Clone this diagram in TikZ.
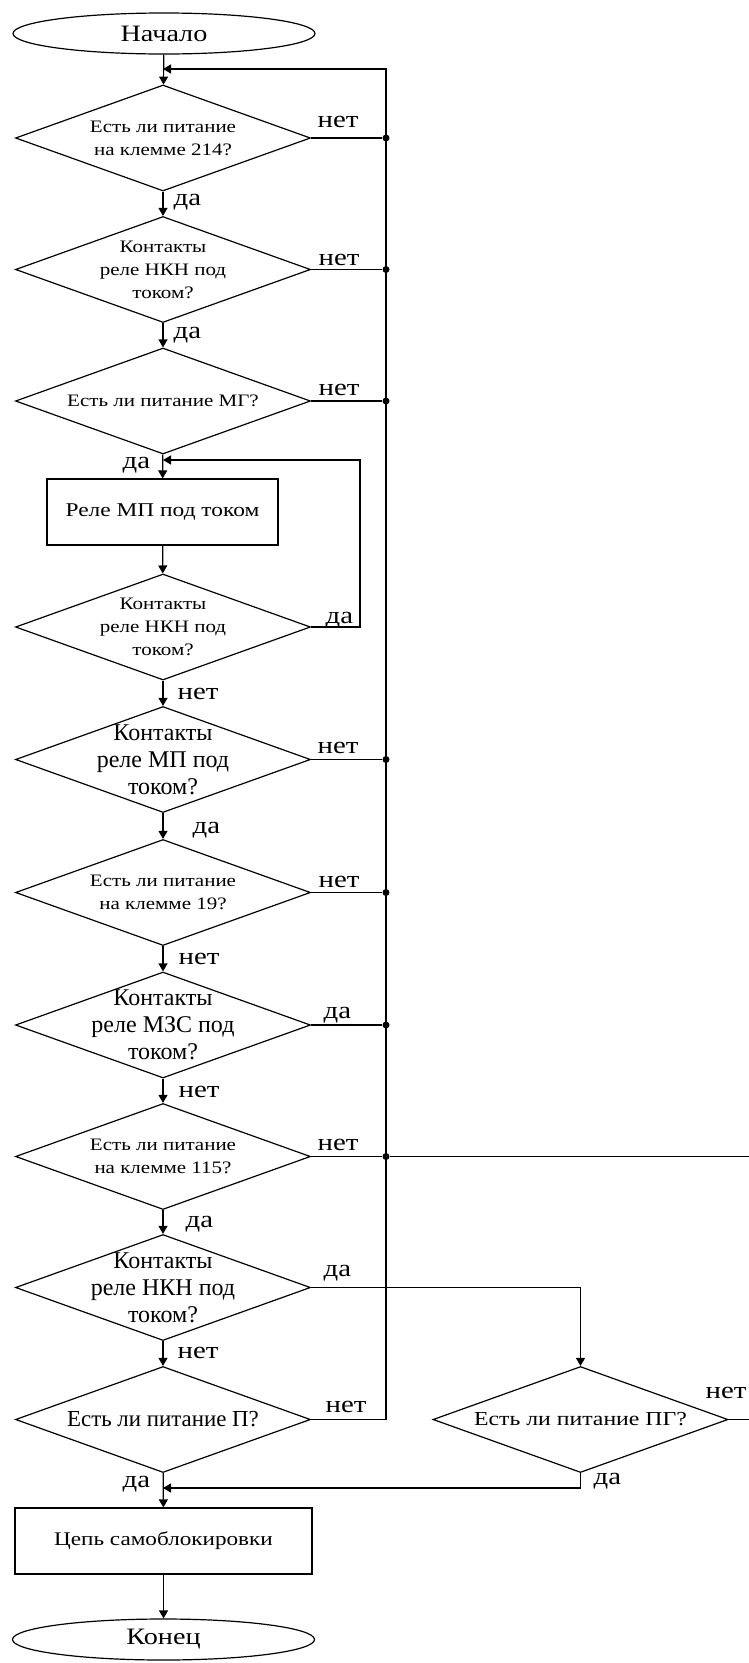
\documentclass[tikz,border=0pt]{standalone}
\usepackage{fontspec}
\setmainfont{Liberation Serif}[FakeStretch=1.2]
\newfontfamily\plainserif{Liberation Serif}
\usetikzlibrary{arrows.meta,positioning,shapes.geometric}

\begin{document}
\begin{tikzpicture}[
    x=1pt, y=-1pt,
    decision/.style={draw, diamond, minimum width=295pt, minimum height=106pt, inner sep=0pt},
    dtext/.style={align=center, inner sep=0pt, font=\fontsize{17.5}{23}\selectfont},
    dbig/.style={align=center, inner sep=0pt, font=\plainserif\fontsize{24}{27}\selectfont},
    process/.style={draw, rectangle, inner sep=0pt},
    terminal/.style={draw, ellipse, minimum width=302pt, minimum height=41pt, inner sep=0pt, font=\fontsize{23.5}{27}\selectfont},
    lbl/.style={anchor=base west, inner sep=0pt, font=\fontsize{24}{28}\selectfont},
    junction/.style={circle, fill, inner sep=0pt, minimum size=7pt},
    line width=1.2pt,
    >={Triangle[length=8pt,width=9pt]}
  ]
  \useasboundingbox (0,0) rectangle (749,1663);

  % Main column
  \node[terminal] (start) at (164,33.5) {Начало};
  \node[decision] (d1) at (163,138) {};
  \node[dtext] (d1t) at (d1) {Есть ли питание\\на клемме 214?};
  \node[decision] (d2) at (163,269.5) {};
  \node[dtext] (d2t) at (d2) {Контакты\\реле НКН под\\током?};
  \node[decision] (d3) at (163,401) {};
  \node[dtext] (d3t) at (d3) {Есть ли питание МГ?};
  \node[process, minimum width=231pt, minimum height=66pt, font=\fontsize{19.5}{24}\selectfont] (r1) at (162.5,512) {Реле МП под током};
  \node[decision] (d4) at (163,627) {};
  \node[dtext] (d4t) at (d4) {Контакты\\реле НКН под\\током?};
  \node[decision] (d5) at (163,759.5) {};
  \node[dbig] (d5t) at (d5) {Контакты\\реле МП под\\током?};
  \node[decision] (d6) at (163,892.5) {};
  \node[dtext] (d6t) at (d6) {Есть ли питание\\на клемме 19?};
  \node[decision] (d7) at (163,1025) {};
  \node[dbig] (d7t) at (d7) {Контакты\\реле МЗС под\\током?};
  \node[decision] (d8) at (163,1156.5) {};
  \node[dtext] (d8t) at (d8) {Есть ли питание\\на клемме 115?};
  \node[decision] (d9) at (163,1287.5) {};
  \node[dbig] (d9t) at (d9) {Контакты\\реле НКН под\\током?};
  \node[decision] (d10) at (163,1419.5) {};
  \node[dbig, font=\plainserif\fontsize{22.9}{26}\selectfont] (d10t) at (d10) {Есть ли питание П?};
  \node[process, minimum width=297pt, minimum height=66pt, font=\fontsize{19.3}{24}\selectfont] (r2) at (163.5,1541) {Цепь самоблокировки};
  \node[terminal] (stop) at (163.5,1639.5) {Конец};

  % Side branch
  \node[decision] (d11) at (580.5,1419.5) {};
  \node[align=center, inner sep=0pt, font=\fontsize{19.8}{24}\selectfont] (d11t) at (d11) {Есть ли питание ПГ?};

  % Rails
  \coordinate (rail) at (386,69);
  \coordinate (ret) at (163,69);
  \coordinate (loopr) at (360,460);
  \coordinate (loopin) at (163,460);
  \coordinate (mrg) at (163,1488);
  \coordinate (edge) at (749,0);

  \draw[->] (start) -- (d1);
  \draw[->] (d1) -- (d2);
  \draw[->] (d2) -- (d3);
  \draw[->] (d3) -- (r1);
  \draw[->] (r1) -- (d4);
  \draw[->] (d4) -- (d5);
  \draw[->] (d5) -- (d6);
  \draw[->] (d6) -- (d7);
  \draw[->] (d7) -- (d8);
  \draw[->] (d8) -- (d9);
  \draw[->] (d9) -- (d10);
  \draw[->] (d10) -- (r2);
  \draw[->] (r2) -- (stop);

  \foreach \n in {d1,d2,d3,d5,d6,d7,d8} {
    \node[junction] (j-\n) at (\n.east -| rail) {};
    \draw (\n.east) -- (j-\n);
  }
  \draw[->] (d10.east) -| (rail) -- (ret);
  \draw[->] (d4.east) -| (loopr) -- (loopin);
  \draw (j-d8) -- (j-d8 -| edge);
  \draw[->] (d9.east) -| (d11.north);
  \draw (d11.east) -- (d11.east -| edge);
  \draw[->] (d11.south) |- (mrg);

  % Labels
  \node[lbl] (l1n) at (317,127) {нет};
  \node[lbl] (l1y) at (173,205) {да};
  \node[lbl] (l2n) at (318,265) {нет};
  \node[lbl] (l2y) at (173,338) {да};
  \node[lbl] (l3n) at (318,395) {нет};
  \node[lbl] (l3y) at (122,468) {да};
  \node[lbl] (l4y) at (325,623) {да};
  \node[lbl] (l4n) at (177,699) {нет};
  \node[lbl] (l5n) at (317,753) {нет};
  \node[lbl] (l5y) at (192,833) {да};
  \node[lbl] (l6n) at (318,887) {нет};
  \node[lbl] (l6d) at (178,964) {нет};
  \node[lbl] (l7y) at (323,1018) {да};
  \node[lbl] (l7n) at (178,1097) {нет};
  \node[lbl] (l8n) at (317,1150) {нет};
  \node[lbl] (l8y) at (185,1227) {да};
  \node[lbl] (l9y) at (323,1276) {да};
  \node[lbl] (l9n) at (177,1358) {нет};
  \node[lbl] (l10n) at (325,1412) {нет};
  \node[lbl] (l10y) at (122,1487) {да};
  \node[lbl] (l11n) at (705,1398) {нет};
  \node[lbl] (l11y) at (593,1484) {да};
\end{tikzpicture}
\end{document}
